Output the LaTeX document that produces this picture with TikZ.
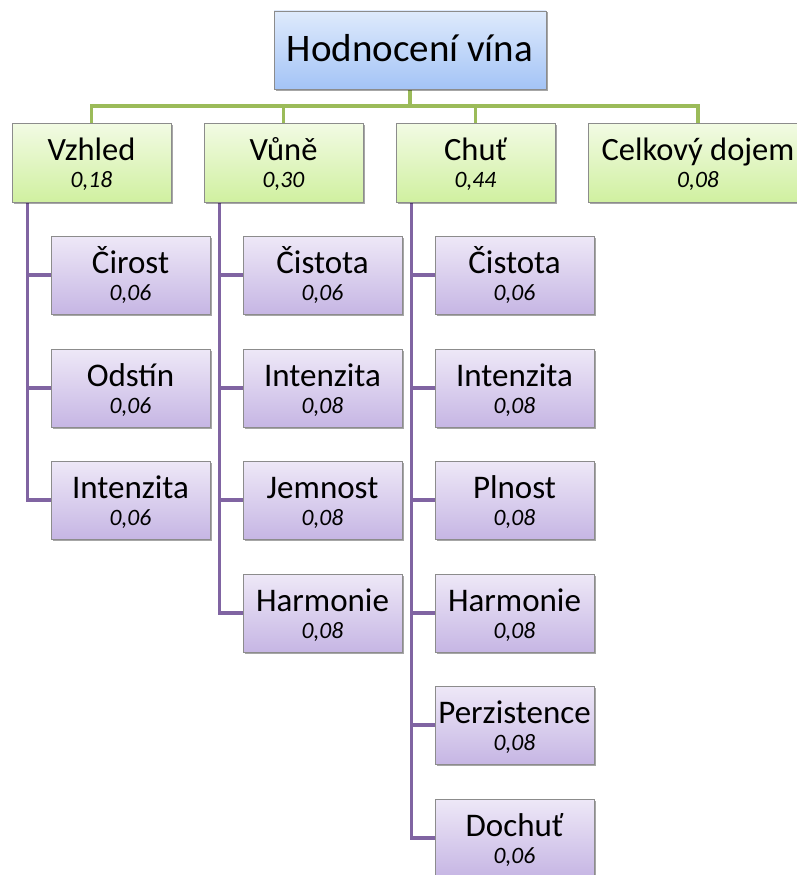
\documentclass[tikz,border=0pt]{standalone}
\usepackage{fontspec}
\setmainfont{Carlito}
\usetikzlibrary{shadows,backgrounds}

\definecolor{boxline}{RGB}{140,140,140}
\definecolor{blueT}{RGB}{222,234,252}
\definecolor{blueB}{RGB}{164,196,246}
\definecolor{greenT}{RGB}{242,251,228}
\definecolor{greenB}{RGB}{208,240,160}
\definecolor{purpT}{RGB}{238,232,247}
\definecolor{purpB}{RGB}{198,182,228}
\definecolor{greenln}{RGB}{155,187,89}
\definecolor{purpln}{RGB}{128,100,162}

\tikzset{
  box/.style={draw=boxline, line width=0.8pt, inner sep=0pt,
    drop shadow={shadow xshift=1.5pt, shadow yshift=-1.5pt, opacity=0.35, fill=black}},
  topbox/.style={box, top color=blueT, bottom color=blueB,
    minimum width=272pt, minimum height=78pt},
  catbox/.style={box, top color=greenT, bottom color=greenB,
    minimum width=159pt, minimum height=79pt},
  itembox/.style={box, top color=purpT, bottom color=purpB,
    minimum width=159pt, minimum height=78pt},
  titletext/.style={anchor=base, inner sep=0pt, font=\fontsize{39}{44}\selectfont},
  cattext/.style={anchor=base, inner sep=0pt, font=\fontsize{32.5}{36}\selectfont},
  itemtext/.style={anchor=base, inner sep=0pt, font=\fontsize{33}{36}\selectfont},
  wtext/.style={anchor=base, inner sep=0pt, font=\fontsize{23.5}{27}\selectfont\itshape},
  greenwire/.style={draw=greenln, line width=3.5pt},
  purpwire/.style={draw=purpln, line width=3.5pt},
}

% category box: name, x, y, title, weight
\newcommand\catnode[5]{%
  \node[catbox] (#1) at (#2,#3) {};
  \node[cattext] (#1-t) at ([yshift=-37.5pt]#1.north) {#4};
  \node[wtext] (#1-w) at ([yshift=-65pt]#1.north) {#5};}
% criterion box: name, x, y, title, weight
\newcommand\itemnode[5]{%
  \node[itembox] (#1) at (#2,#3) {};
  \node[itemtext] (#1-t) at ([yshift=-37.5pt]#1.north) {#4};
  \node[wtext] (#1-w) at ([yshift=-64.5pt]#1.north) {#5};}

\begin{document}
\begin{tikzpicture}[x=1pt,y=-1pt]
\useasboundingbox (0,0) rectangle (797,875);

% root
\node[topbox] (root) at (410,50) {};
\node[titletext] (root-t) at ([yshift=-51pt]root.north) {Hodnocení vína};

% categories
\catnode{vz}{91.5}{162.5}{Vzhled}{0,18}
\catnode{vu}{283.5}{162.5}{Vůně}{0,30}
\catnode{ch}{475.5}{162.5}{Chuť}{0,44}
\node[catbox, minimum width=220pt] (cd) at (698,162.5) {};
\node[cattext] (cd-t) at ([yshift=-37.5pt]cd.north) {Celkový dojem};
\node[wtext] (cd-w) at ([yshift=-65pt]cd.north) {0,08};

% criteria: Vzhled
\itemnode{vz1}{130.5}{275}{Čirost}{0,06}
\itemnode{vz2}{130.5}{388}{Odstín}{0,06}
\itemnode{vz3}{130.5}{500}{Intenzita}{0,06}
% criteria: Vůně
\itemnode{vu1}{322.5}{275}{Čistota}{0,06}
\itemnode{vu2}{322.5}{388}{Intenzita}{0,08}
\itemnode{vu3}{322.5}{500}{Jemnost}{0,08}
\itemnode{vu4}{322.5}{613}{Harmonie}{0,08}
% criteria: Chuť
\itemnode{ch1}{514.5}{275}{Čistota}{0,06}
\itemnode{ch2}{514.5}{388}{Intenzita}{0,08}
\itemnode{ch3}{514.5}{500}{Plnost}{0,08}
\itemnode{ch4}{514.5}{613}{Harmonie}{0,08}
\itemnode{ch5}{514.5}{725}{Perzistence}{0,08}
\itemnode{ch6}{514.5}{838}{Dochuť}{0,06}

\begin{scope}[on background layer]
% green bus from the root to the categories
\coordinate (bus) at (410,106);
\draw[greenwire] (root.south) -- (bus);
\draw[greenwire] (vz.north) |- (bus);
\draw[greenwire] (cd.north) |- (bus);
\draw[greenwire] (vu.north) -- (vu.north |- bus);
\draw[greenwire] (ch.north) -- (ch.north |- bus);

% purple spines from each category to its criteria
\coordinate (vzs) at ([xshift=16pt]vz.south west);
\coordinate (vus) at ([xshift=16pt]vu.south west);
\coordinate (chs) at ([xshift=16pt]ch.south west);
\draw[purpwire] (vz3.west) -| (vzs);
\foreach \i in {1,2}
  \draw[purpwire] (vz\i.west) -- (vz\i.west -| vzs);
\draw[purpwire] (vu4.west) -| (vus);
\foreach \i in {1,2,3}
  \draw[purpwire] (vu\i.west) -- (vu\i.west -| vus);
\draw[purpwire] (ch6.west) -| (chs);
\foreach \i in {1,...,5}
  \draw[purpwire] (ch\i.west) -- (ch\i.west -| chs);
\end{scope}
\end{tikzpicture}
\end{document}
